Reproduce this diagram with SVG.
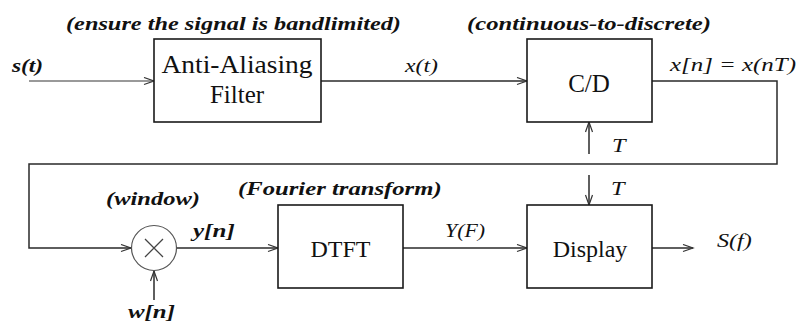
<svg xmlns="http://www.w3.org/2000/svg" width="798" height="324" viewBox="0 0 798 324">
<defs>
<style>
.box{fill:#fff;stroke:#1a1a1a;stroke-width:1.6}
.ln{fill:none;stroke:#2a2a2a;stroke-width:1.5}
.serif{font-family:"Liberation Serif","Times New Roman",Tinos,serif;fill:#111}
.bt{font-size:24px;text-anchor:middle}
.ti{font-size:19px;font-style:italic;font-weight:bold}
.lab{font-size:19px;font-style:italic}
.labb{font-size:19px;font-style:italic;font-weight:bold}
</style>
<marker id="arr" markerUnits="userSpaceOnUse" markerWidth="14" markerHeight="10" refX="11" refY="4" orient="auto">
<path d="M1,0.5 L11,4 L1,7.5" fill="none" stroke="#333" stroke-width="1.2"/>
</marker>
</defs>
<rect width="798" height="324" fill="#fff"/>

<g id="connectors">
<path class="ln" stroke="#777" style="stroke:#777" d="M29 81 H154" marker-end="url(#arr)"/>
<path class="ln" d="M321 81 H527" marker-end="url(#arr)"/>
<path class="ln" d="M652 81 H777 V164 H29 V248 H131" marker-end="url(#arr)"/>
<path class="ln" d="M176.5 248 H278" marker-end="url(#arr)"/>
<path class="ln" d="M403 248 H527" marker-end="url(#arr)"/>
<path class="ln" d="M652 248 H693" marker-end="url(#arr)"/>
<path class="ln" d="M589 154 V122" marker-end="url(#arr)"/>
<path class="ln" d="M589 175 V205" marker-end="url(#arr)"/>
<path class="ln" d="M154 300 V271" marker-end="url(#arr)"/>
</g>

<g id="labels">
<text class="serif ti" transform="matrix(1.28 0 0 1 66 30)">(ensure the signal is bandlimited)</text>
<text class="serif ti" transform="matrix(1.30 0 0 1 467 30)">(continuous-to-discrete)</text>
<text class="serif ti" transform="matrix(1.29 0 0 1 106 205)">(window)</text>
<text class="serif ti" transform="matrix(1.30 0 0 1 238 195)">(Fourier transform)</text>
<text class="serif labb" transform="matrix(1.23 0 0 1 12 72)">s(t)</text>
<text class="serif labb" transform="matrix(1.32 0 0 1 193 237)">y[n]</text>
<text class="serif labb" transform="matrix(1.31 0 0 1 128 318)">w[n]</text>
<text class="serif lab" transform="matrix(1.25 0 0 1 405 72)">x(t)</text>
<text class="serif lab" transform="matrix(1.31 0 0 1 670 71)">x[n] = x(nT)</text>
<text class="serif lab" transform="matrix(1.28 0 0 1 612 152)">T</text>
<text class="serif lab" transform="matrix(1.28 0 0 1 611 195)">T</text>
<text class="serif lab" transform="matrix(1.15 0 0 1 445 237)">Y(F)</text>
<text class="serif lab" transform="matrix(1.27 0 0 1 717 247)">S(f)</text>
</g>

<g id="anti-aliasing">
<rect class="box" x="154" y="39" width="167" height="83"/>
<text class="serif bt" style="font-size:25px" transform="matrix(1.1 0 0 1 237 73)">Anti-Aliasing</text>
<text class="serif bt" style="font-size:25px" x="237" y="103">Filter</text>
</g>

<g id="cd">
<rect class="box" x="527" y="39" width="125" height="83"/>
<text class="serif bt" style="font-size:25px" x="589" y="92">C/D</text>
</g>

<g id="multiplier">
<circle cx="154" cy="248" r="22.5" fill="#fff" stroke="#555" stroke-width="1.2"/>
<path d="M145 239 L163 257 M163 239 L145 257" stroke="#444" stroke-width="1.3" fill="none"/>
</g>

<g id="dtft">
<rect class="box" x="278" y="205" width="125" height="83"/>
<text class="serif bt" x="340.5" y="257">DTFT</text>
</g>

<g id="display">
<rect class="box" x="527" y="205" width="125" height="83"/>
<text class="serif bt" x="590" y="257">Display</text>
</g>
</svg>
